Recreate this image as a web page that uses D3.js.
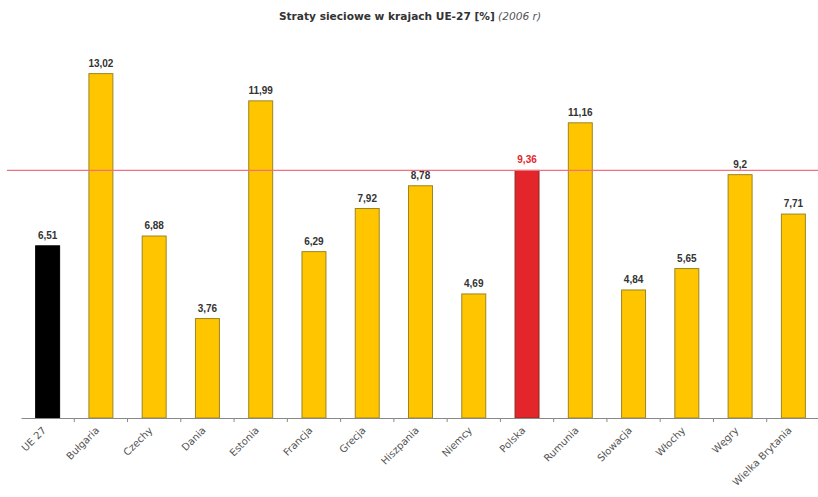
<!DOCTYPE html>
<html>
<head>
<meta charset="utf-8">
<script src="https://cdn.jsdelivr.net/npm/d3@7"></script>
<style>
  html, body { margin: 0; padding: 0; background: #fff; }
  svg { display: block; font-family: "Liberation Sans", Arial, sans-serif; }
</style>
</head>
<body>
<svg id="chart" width="818" height="497"></svg>
<script>
// Network losses in EU-27 countries, 2006 (%)
const categories = ["UE 27", "Bułgaria", "Czechy", "Dania", "Estonia", "Francja", "Grecja",
  "Hiszpania", "Niemcy", "Polska", "Rumunia", "Słowacja", "Włochy", "Węgry", "Wielka Brytania"];
const losses = [6.51, 13.02, 6.88, 3.76, 11.99, 6.29, 7.92, 8.78, 4.69, 9.36, 11.16, 4.84, 5.65, 9.2, 7.71];
const valueLabels = ["6,51", "13,02", "6,88", "3,76", "11,99", "6,29", "7,92", "8,78", "4,69", "9,36",
  "11,16", "4,84", "5,65", "9,2", "7,71"];
const referenceLevel = 9.36; // Poland
const titleMain = "Straty sieciowe w krajach UE-27 [%]";
const titleNote = " (2006 r)";

const svg = d3.select("#chart");
const baseY = 418;

const x = d3.scaleBand()
  .domain(categories)
  .range([21, 820])
  .paddingInner(0.55)
  .paddingOuter(0.275);

const y = d3.scaleLinear()
  .domain([0, 14])
  .range([baseY, baseY - 14 * 26.45]);

function fillFor(c) {
  if (c === "UE 27") return "#000000";
  if (c === "Polska") return "#e3262c";
  return "#ffc600";
}
function strokeFor(c) {
  if (c === "UE 27") return "#000000";
  if (c === "Polska") return "#8a2a20";
  return "#9c8420";
}

// Title
const title = svg.append("text")
  .attr("x", 410).attr("y", 20)
  .attr("text-anchor", "middle")
  .attr("font-family", "'DejaVu Sans', Verdana, sans-serif")
  .attr("font-size", 10.6)
  .attr("fill", "#333");
title.append("tspan").attr("font-weight", "bold").text(titleMain);
title.append("tspan").attr("font-style", "italic").attr("fill", "#555").text(titleNote);

// Bars
svg.append("g")
  .selectAll("rect")
  .data(categories)
  .join("rect")
  .attr("x", c => x(c))
  .attr("width", x.bandwidth())
  .attr("y", (c, i) => y(losses[i]))
  .attr("height", (c, i) => y(0) - y(losses[i]))
  .attr("fill", fillFor)
  .attr("stroke", strokeFor)
  .attr("stroke-width", 1);

// Reference line at Poland's level
svg.append("line")
  .attr("x1", 7).attr("x2", 818)
  .attr("y1", y(referenceLevel)).attr("y2", y(referenceLevel))
  .attr("stroke", "#f07080")
  .attr("stroke-width", 1.2);

// Value labels
svg.append("g")
  .selectAll("text")
  .data(categories)
  .join("text")
  .attr("x", c => x(c) + x.bandwidth() / 2)
  .attr("y", (c, i) => y(losses[i]) - 7)
  .attr("text-anchor", "middle")
  .attr("font-size", 10)
  .attr("font-weight", "bold")
  .attr("fill", c => c === "Polska" ? "#e3262c" : "#333")
  .text((c, i) => valueLabels[i]);

// Category axis
const axis = d3.axisBottom(x).tickSize(0).tickSizeOuter(0).tickFormat("");
const gAxis = svg.append("g")
  .attr("transform", `translate(0,${baseY})`)
  .call(axis);
gAxis.select(".domain").attr("stroke", "#888").attr("stroke-width", 1.2);

// Tick marks between categories
const step = x.step();
svg.append("g")
  .selectAll("line")
  .data(categories.slice(1))
  .join("line")
  .attr("x1", c => x(c) - (step - x.bandwidth()) / 2)
  .attr("x2", c => x(c) - (step - x.bandwidth()) / 2)
  .attr("y1", baseY).attr("y2", baseY + 4)
  .attr("stroke", "#888");

// Rotated category labels
svg.append("g")
  .selectAll("text")
  .data(categories)
  .join("text")
  .attr("transform", c => `translate(${x(c) + x.bandwidth() / 2 - 1},${baseY + 13}) rotate(-45)`)
  .attr("text-anchor", "end")
  .attr("font-family", "'DejaVu Sans', Verdana, sans-serif")
  .attr("font-size", 10)
  .attr("fill", "#555")
  .text(c => c);
</script>
</body>
</html>
